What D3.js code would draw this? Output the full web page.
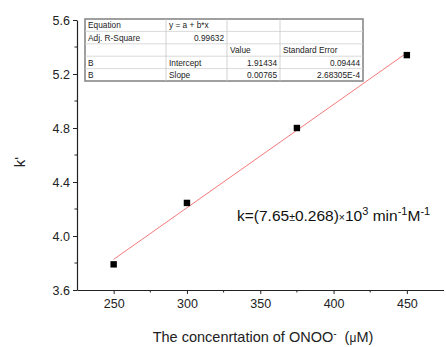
<!DOCTYPE html>
<html>
<head>
<meta charset="utf-8">
<script src="https://cdn.jsdelivr.net/npm/d3@7/dist/d3.min.js"></script>
<style>
  html, body { margin: 0; padding: 0; background: #fff; }
  svg { display: block; font-family: "Liberation Sans", Arial, sans-serif; }
</style>
</head>
<body>
<svg id="chart" width="446" height="347"></svg>
<script>
// Measured pseudo-first-order constants vs. ONOO- concentration
const concentrations = [250, 300, 375, 450];
const kPrime = [3.79, 4.245, 4.80, 5.34];

// Linear fit results
const intercept = 1.91434;
const slope = 0.00765;

const xTicks = [250, 300, 350, 400, 450];
const yTicks = [3.6, 4.0, 4.4, 4.8, 5.2, 5.6];

const fitTable = [
  ["Equation", "y = a + b*x", "", ""],
  ["Adj. R-Square", "0.99632", "", ""],
  ["", "", "Value", "Standard Error"],
  ["B", "Intercept", "1.91434", "0.09444"],
  ["B", "Slope", "0.00765", "2.68305E-4"]
];

const svg = d3.select("#chart");
const x = d3.scaleLinear().domain([225, 475]).range([77, 443.5]);
const y = d3.scaleLinear().domain([3.6, 5.6]).range([290, 20]);

// axes
const xAxis = svg.append("g").attr("transform", "translate(0,290)")
  .call(d3.axisBottom(x).tickValues(xTicks).tickSize(4).tickPadding(5).tickSizeOuter(0));
xAxis.append("g").selectAll("line").data([275, 325, 375, 425]).join("line")
  .attr("x1", d => x(d)).attr("x2", d => x(d)).attr("y1", 0).attr("y2", 2.5)
  .attr("stroke", "#222");

const yAxis = svg.append("g").attr("transform", "translate(77,0)")
  .call(d3.axisLeft(y).tickValues(yTicks).tickFormat(d3.format(".1f")).tickSize(4).tickPadding(3).tickSizeOuter(0));
yAxis.append("g").selectAll("line").data([3.8, 4.2, 4.6, 5.0, 5.4]).join("line")
  .attr("x1", 0).attr("x2", -2.5).attr("y1", d => y(d)).attr("y2", d => y(d))
  .attr("stroke", "#222");

svg.selectAll(".domain").attr("stroke", "#222").attr("stroke-width", 1.2);
svg.selectAll(".tick line").attr("stroke", "#222");
svg.selectAll(".tick text").attr("font-size", 12.5).attr("fill", "#222")
  .attr("font-family", "Liberation Sans, Arial, sans-serif");

// fit line
const xs = d3.extent(concentrations);
svg.append("line")
  .attr("x1", x(xs[0])).attr("y1", y(intercept + slope * xs[0]))
  .attr("x2", x(xs[1])).attr("y2", y(intercept + slope * xs[1]))
  .attr("stroke", "#f47a7a").attr("stroke-width", 1);

// data points
svg.selectAll("rect.pt").data(concentrations).join("rect")
  .attr("class", "pt")
  .attr("x", d => x(d) - 3.2).attr("y", (d, i) => y(kPrime[i]) - 3.2)
  .attr("width", 6.4).attr("height", 6.4).attr("fill", "#000");

// fit table
const colX = [85, 166, 227, 280, 363];
const rowY = [19, 31.4, 43.8, 56.2, 68.6, 81];
const tbl = svg.append("g");
tbl.append("rect").attr("x", colX[0]).attr("y", rowY[0])
  .attr("width", colX[4] - colX[0]).attr("height", rowY[5] - rowY[0])
  .attr("fill", "#fff").attr("stroke", "#808080").attr("stroke-width", 1.5);
rowY.slice(1, 5).forEach(v => tbl.append("line")
  .attr("x1", colX[0]).attr("x2", colX[4]).attr("y1", v).attr("y2", v)
  .attr("stroke", "#d0d0d0").attr("stroke-width", 0.8));
colX.slice(1, 4).forEach(v => tbl.append("line")
  .attr("x1", v).attr("x2", v).attr("y1", rowY[0]).attr("y2", rowY[5])
  .attr("stroke", "#c8c8c8").attr("stroke-width", 0.8));
const rightAligned = (r, c) => (r === 1 && c === 1) || (r >= 3 && c >= 2);
fitTable.forEach((row, r) => row.forEach((txt, c) => {
  if (!txt) return;
  const ra = rightAligned(r, c);
  tbl.append("text")
    .attr("x", ra ? colX[c + 1] - 3 : colX[c] + 3)
    .attr("y", rowY[r] + 9.3)
    .attr("text-anchor", ra ? "end" : "start")
    .attr("font-size", 8.3).attr("fill", "#222")
    .text(txt);
}));

// axis titles
svg.append("text").attr("transform", "translate(25,162) rotate(-90)")
  .attr("text-anchor", "middle").attr("font-size", 15).attr("fill", "#222")
  .text("k'");

const xt = svg.append("text").attr("x", 263).attr("y", 342)
  .attr("text-anchor", "middle").attr("font-size", 14.5).attr("fill", "#222")
  .attr("xml:space", "preserve");
xt.append("tspan").text("The concenrtation of ONOO");
xt.append("tspan").attr("dy", -5.5).attr("font-size", 10).text("-");
xt.append("tspan").attr("dy", 5.5).text("  (");
xt.append("tspan").attr("font-size", 12).text("μ");
xt.append("tspan").text("M)");

// rate constant annotation
const ann = svg.append("text").attr("x", 237).attr("y", 221)
  .attr("font-size", 15.5).attr("fill", "#111").attr("xml:space", "preserve");
ann.append("tspan").text("k=(7.65");
ann.append("tspan").attr("font-size", 10.5).text("±");
ann.append("tspan").text("0.268)");
ann.append("tspan").attr("font-size", 10.5).text("×");
ann.append("tspan").text("10");
ann.append("tspan").attr("dy", -6.5).attr("font-size", 11).text("3");
ann.append("tspan").attr("dy", 6.5).text(" min");
ann.append("tspan").attr("dy", -6.5).attr("font-size", 11).text("-1");
ann.append("tspan").attr("dy", 6.5).text("M");
ann.append("tspan").attr("dy", -6.5).attr("font-size", 11).text("-1");
</script>
</body>
</html>
